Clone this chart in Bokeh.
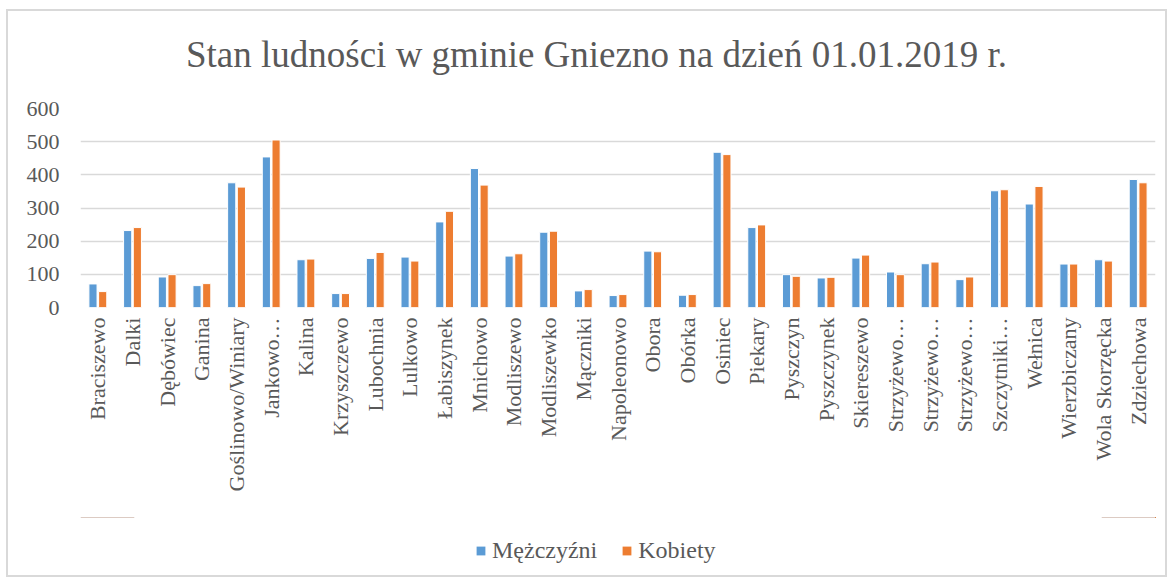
from bokeh.plotting import figure
from bokeh.models import Range1d, FixedTicker, Legend, LegendItem, ColumnDataSource, Label
from bokeh.layouts import column
from bokeh.transform import dodge
from bokeh.embed import file_html
from bokeh.resources import INLINE
import math

categories = ["Braciszewo", "Dalki", "Dębówiec", "Ganina", "Goślinowo/Winiary",
              "Jankowo…", "Kalina", "Krzyszczewo", "Lubochnia", "Lulkowo",
              "Łabiszynek", "Mnichowo", "Modliszewo", "Modliszewko", "Mączniki",
              "Napoleonowo", "Obora", "Obórka", "Osiniec", "Piekary",
              "Pyszczyn", "Pyszczynek", "Skiereszewo", "Strzyżewo…", "Strzyżewo…",
              "Strzyżewo…", "Szczytniki…", "Wełnica", "Wierzbiczany", "Wola Skorzęcka",
              "Zdziechowa"]
men = [71, 232, 92, 66, 376, 454, 144, 42, 148, 152,
       258, 419, 155, 227, 50, 36, 170, 37, 468, 241,
       99, 89, 149, 107, 132, 84, 352, 312, 131, 144, 386]
women = [48, 241, 99, 72, 363, 505, 146, 42, 166, 140,
         290, 369, 162, 230, 54, 39, 168, 39, 461, 249,
         94, 91, 158, 99, 137, 92, 355, 365, 131, 140, 376]
y_ticks = [0, 100, 200, 300, 400, 500, 600]
title_text = "Stan ludności w gminie Gniezno na dzień 01.01.2019 r."
series_names = ["Mężczyźni", "Kobiety"]
colors = ["#5B9BD5", "#ED7D31"]

n = len(categories)
xs = list(range(n))
src = ColumnDataSource(dict(x=xs, men=men, women=women))

GRAY = "#595959"
FONT = "Liberation Serif"
W = 1157

# --- title strip ---
p0 = figure(width=W, height=82, output_backend="svg", toolbar_location=None,
            title=None, x_axis_location=None, y_axis_location=None,
            x_range=Range1d(0, 1), y_range=Range1d(0, 1), min_border=0)
p0.outline_line_color = None
p0.grid.visible = False
p0.add_layout(Label(x=516, y=39, x_units="screen", y_units="screen",
                    text=title_text, text_align="center", text_baseline="alphabetic",
                    text_font=FONT, text_font_size="37px", text_color=GRAY))

# --- main chart ---
p = figure(width=W, height=424, output_backend="svg", toolbar_location=None,
           title=None, x_range=Range1d(-0.5, n - 0.5), y_range=Range1d(0, 600),
           frame_width=1075, frame_height=199,
           min_border_left=72, min_border_right=10, min_border_top=15,
           min_border_bottom=210)
p.outline_line_color = None

r1 = p.vbar(x=dodge("x", -0.14), top="men", width=0.235, source=src,
            fill_color=colors[0], line_color="white", line_width=1)
r2 = p.vbar(x=dodge("x", 0.14), top="women", width=0.235, source=src,
            fill_color=colors[1], line_color="white", line_width=1)

p.xgrid.grid_line_color = None
p.ygrid.grid_line_color = "#d9d9d9"
p.ygrid.grid_line_width = 1.5

p.yaxis.ticker = FixedTicker(ticks=y_ticks)
p.yaxis.axis_line_color = None
p.yaxis.major_tick_line_color = None
p.yaxis.minor_tick_line_color = None
p.yaxis.major_label_text_font = FONT
p.yaxis.major_label_text_font_size = "22px"
p.yaxis.major_label_text_color = GRAY
p.yaxis.major_label_standoff = 15

p.xaxis.ticker = FixedTicker(ticks=xs)
p.xaxis.major_label_overrides = {i: c for i, c in enumerate(categories)}
p.xaxis.major_label_orientation = math.pi / 2
p.xaxis.axis_line_color = None
p.xaxis.major_tick_line_color = None
p.xaxis.minor_tick_line_color = None
p.xaxis.major_label_text_font = FONT
p.xaxis.major_label_text_font_size = "22px"
p.xaxis.major_label_text_color = GRAY
p.xaxis.major_label_standoff = 4

# --- legend strip (bars drawn outside its view; only the legend shows) ---
p2 = figure(width=W, height=58, output_backend="svg", toolbar_location=None,
            title=None, x_axis_location=None, y_axis_location=None,
            x_range=Range1d(0, 1), y_range=Range1d(-2, -1), min_border=0)
p2.outline_line_color = None
p2.grid.visible = False
d1 = p2.vbar(x="x", top="men", width=0.1, source=src, fill_color=colors[0], line_color=None)
d2 = p2.vbar(x="x", top="women", width=0.1, source=src, fill_color=colors[1], line_color=None)
legend = Legend(items=[LegendItem(label=series_names[0], renderers=[d1]),
                       LegendItem(label=series_names[1], renderers=[d2])],
                orientation="horizontal", location=(395, 11),
                label_text_font=FONT, label_text_font_size="24px",
                label_text_color=GRAY, glyph_width=11, glyph_height=11,
                spacing=24, border_line_color=None, background_fill_alpha=0,
                label_standoff=6, margin=0, padding=6)
p2.add_layout(legend)

layout = column(p0, p, p2, spacing=0,
                styles={"border": "2px solid #d9d9d9", "margin-left": "6px",
                        "margin-top": "9px"})

open("out.html", "w").write(file_html(layout, INLINE))
